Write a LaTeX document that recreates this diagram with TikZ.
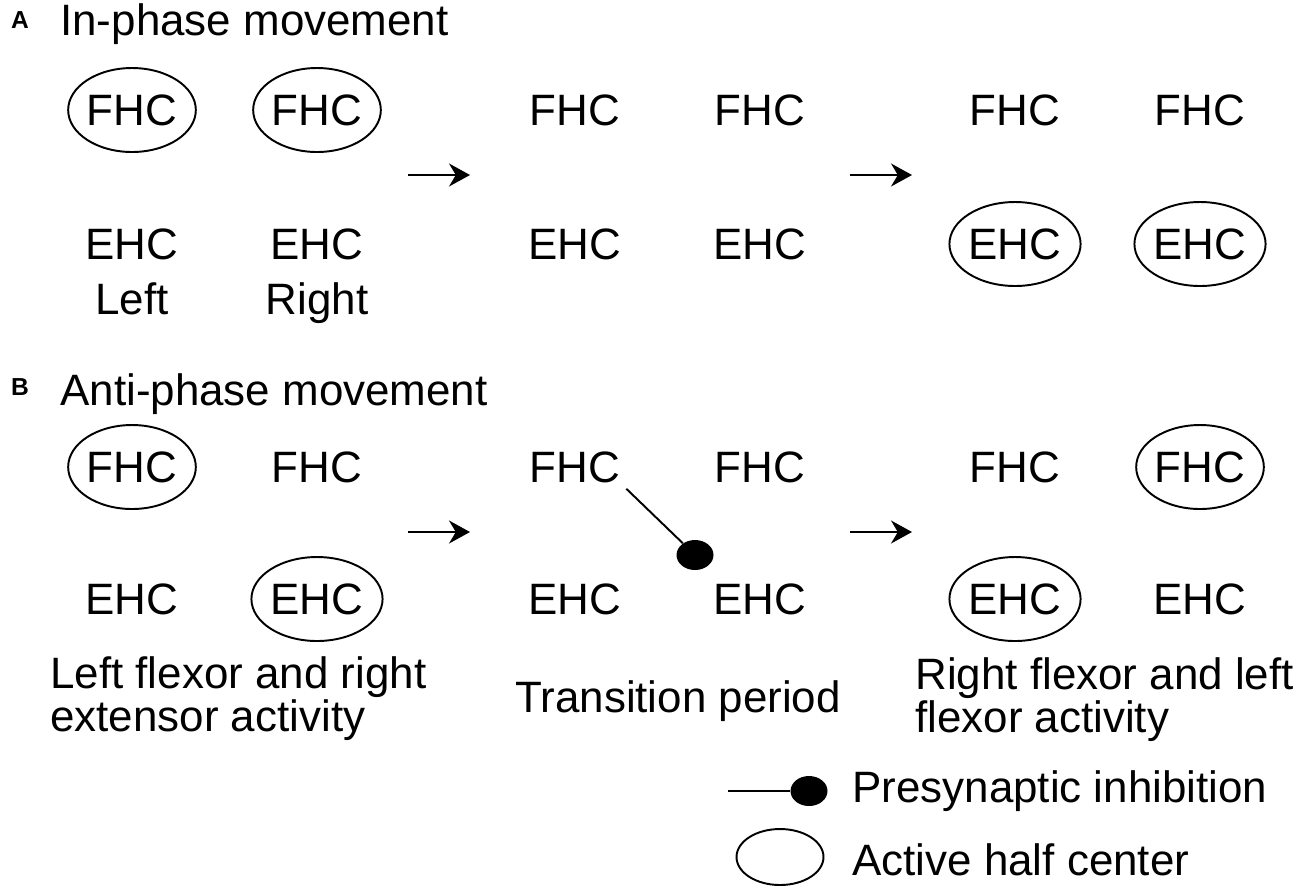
\documentclass[tikz,border=0pt]{standalone}
\usepackage{fontspec}
\setmainfont{Liberation Sans}
\usetikzlibrary{shapes,arrows.meta,positioning}
\setlength{\lineskiplimit}{-30pt}

\begin{document}
\begin{tikzpicture}[x=0.02cm,y=-0.02cm,
    txt/.style={font=\fontsize{25}{24}\selectfont},
    hc/.style={txt,inner sep=0.333em},
    act/.style={txt,ellipse,draw,line width=1.1pt,minimum width=2.54cm,minimum height=1.68cm,inner sep=0pt},
    ball/.style={ellipse,fill,minimum width=0.74cm,minimum height=0.6cm,inner sep=0pt},
    go/.style={-{Stealth[length=0.42cm,width=0.46cm]},line width=1.1pt}]
\useasboundingbox (0,0) rectangle (1300,890);

% A: in-phase
\node[font=\fontsize{14}{16}\selectfont\bfseries] (labA) at (20,20) {A};
\node[txt,anchor=base west,inner sep=0pt] (titA) at (60,35) {In-phase movement};
\foreach \x/\sf/\se [count=\n] in {132/act/hc,317/act/hc,575/hc/hc,760/hc/hc,1015/hc/act,1200/hc/act}
  {\node[\sf] (AF\n) at (\x,110) {FHC};
   \node[\se] (AE\n) at (\x,244) {EHC};}
\node[txt,inner sep=0pt,below=0.34cm of AE1] (left) {Left};
\node[txt,inner sep=0pt,below=0.34cm of AE2] (right) {Right};

% arrows between phases
\foreach \x/\y [count=\n] in {408/175,850/175,408/532,850/532}
  {\coordinate (s\n) at (\x,\y);
   \coordinate (e\n) at (\x+62,\y);
   \draw[go] (s\n) -- (e\n);}

% B: anti-phase
\node[font=\fontsize{14}{16}\selectfont\bfseries] (labB) at (20,387) {B};
\node[txt,anchor=base west,inner sep=0pt] (titB) at (60,405) {Anti-phase movement};
\foreach \x/\sf/\se [count=\n] in {132/act/hc,317/hc/act,575/hc/hc,760/hc/hc,1015/hc/act,1200/act/hc}
  {\node[\sf] (BF\n) at (\x,467) {FHC};
   \node[\se] (BE\n) at (\x,599) {EHC};}
\node[ball] (inh) at (695,555) {};
\draw[line width=1.1pt] (BF3.south east) -- (inh);

\node[txt,anchor=base west,inner sep=0pt,align=left] (capL) at (50,731) {Left flexor and right\\extensor activity};
\node[txt,anchor=base west,inner sep=0pt] (capM) at (515,712) {Transition period};
\node[txt,anchor=base west,inner sep=0pt,align=left] (capR) at (915,732) {Right flexor and left\\flexor activity};

% legend
\coordinate (leg) at (728,791);
\node[ball] (legball) at (809,791) {};
\draw[line width=1.1pt] (leg) -- (legball);
\node[txt,anchor=base west,inner sep=0pt] (legtxt1) at (852,802) {Presynaptic inhibition};
\node[act,minimum width=1.74cm,minimum height=1.12cm] (legact) at (780,857) {};
\node[txt,anchor=base west,inner sep=0pt] (legtxt2) at (852,875) {Active half center};
\end{tikzpicture}
\end{document}
